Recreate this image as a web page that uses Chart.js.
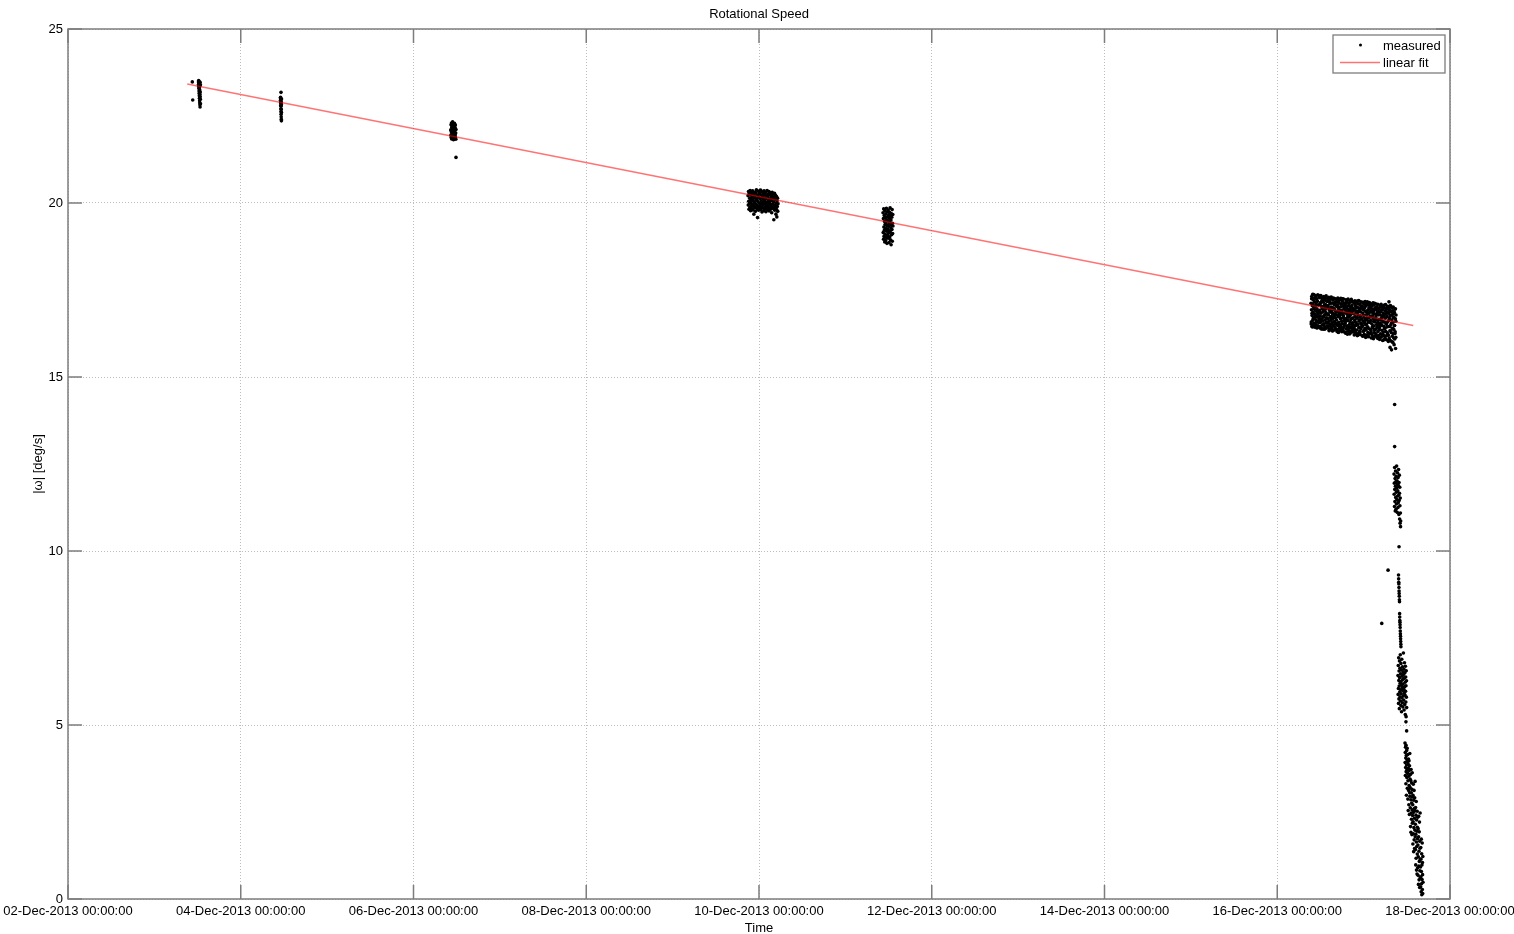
<!DOCTYPE html>
<html>
<head>
<meta charset="utf-8">
<script src="https://cdn.jsdelivr.net/npm/chart.js@4"></script>
<style>
  html, body { margin: 0; padding: 0; background: #fff; }
  canvas { display: block; }
</style>
</head>
<body>
<canvas id="chart" width="1514" height="934"></canvas>
<script>
"use strict";

// x values are "day of December 2013" (12.5 = 12-Dec-2013 12:00)
const xTickDays = [2, 4, 6, 8, 10, 12, 14, 16, 18];
const yTicks = [0, 5, 10, 15, 20, 25];

// linear fit end points
const fitDays = [3.381, 17.575];
const fitValues = [23.42, 16.48];

// single measurements away from the bursts
const strayDays = [3.439, 3.444, 4.466, 6.492, 17.359, 17.359, 17.410, 17.283, 17.210, 17.490, 17.498];
const strayValues = [23.48, 22.96, 23.18, 21.31, 14.21, 13.00, 10.12, 9.45, 7.92, 5.09, 4.83];

// bursts of samples: first and last sample time, values in time order
const burstStart = [3.511, 4.460, 6.431, 9.873, 11.436, 16.391, 16.393, 17.352, 17.404, 17.398, 17.479];
const burstEnd = [3.534, 4.472, 6.492, 10.220, 11.551, 17.375, 17.373, 17.429, 17.432, 17.498, 17.687];

const burstDec03 = [23.48, 23.41, 23.52, 23.35, 23.44, 23.29, 23.50, 23.22, 23.38, 23.15, 23.46, 23.08, 23.31, 23.01,
    23.43, 22.94, 23.25, 22.88, 23.36, 22.82, 23.12, 22.76, 23.47, 23.05, 23.19, 22.98, 23.40, 22.85];
const burstDec04 = [23.02, 22.95, 23.04, 22.88, 22.97, 22.80, 22.92, 22.71, 22.86, 22.63, 22.78, 22.55, 22.90, 22.48,
    22.69, 22.41, 22.83, 22.36, 22.60, 22.99];
const burstDec06 = [22.10, 21.95, 22.25, 21.88, 22.05, 22.30, 21.84, 22.18, 21.99, 22.22, 21.90, 22.12, 22.33, 21.86,
    22.02, 22.27, 21.93, 22.15, 21.82, 22.08, 22.20, 21.97, 21.89, 22.14, 22.29, 21.85, 22.04, 21.92, 22.17, 21.96,
    22.24, 21.87, 22.01, 21.83, 22.11];
const burstDec09 = [
    20.21, 19.94, 20.33, 20.05, 19.82, 20.27, 19.98, 20.14, 19.87, 20.36,
    20.02, 19.78, 20.24, 20.10, 19.91, 20.30, 19.84, 20.18, 19.96, 20.07,
    20.35, 19.80, 20.12, 19.93, 20.26, 19.68, 20.03, 20.20, 19.86, 20.31,
    19.99, 20.15, 19.76, 20.28, 20.08, 19.89, 20.38, 19.95, 20.11, 19.83,
    20.22, 19.58, 20.04, 20.34, 19.90, 20.17, 19.79, 20.25, 20.00, 19.92,
    20.29, 19.85, 20.13, 19.97, 20.37, 19.81, 20.06, 20.23, 19.88, 20.16,
    19.74, 20.32, 20.01, 19.94, 20.19, 19.86, 20.27, 20.09, 19.78, 20.35,
    19.98, 20.14, 19.83, 20.24, 20.04, 19.90, 20.30, 19.75, 20.12, 19.96,
    20.21, 19.87, 20.36, 20.02, 19.80, 20.18, 19.93, 20.26, 19.85, 20.08,
    20.33, 19.77, 20.11, 19.99, 20.23, 19.89, 20.05, 20.29, 19.82, 20.15,
    19.95, 20.20, 19.72, 20.07, 20.31, 19.88, 20.13, 19.97, 20.25, 19.84,
    20.03, 19.52, 20.17, 19.91, 20.28, 19.79, 20.10, 19.94, 20.22, 19.86,
    19.68, 20.00, 20.19, 19.81, 19.60, 20.06, 19.90, 20.14, 19.76, 19.98];
const burstDec11 = [
    19.72, 19.15, 19.55, 18.96, 19.83, 19.31, 19.04, 19.64, 19.22, 19.47,
    18.88, 19.78, 19.38, 19.10, 19.58, 19.27, 18.92, 19.69, 19.43, 19.01,
    19.85, 19.19, 19.52, 18.84, 19.35, 19.75, 19.07, 19.61, 19.25, 19.49,
    18.99, 19.80, 19.33, 19.13, 19.66, 19.40, 18.86, 19.56, 19.20, 19.73,
    19.03, 19.45, 19.86, 19.17, 18.94, 19.62, 19.29, 19.51, 18.80, 19.70,
    19.37, 19.09, 19.59, 19.24, 19.81, 18.90, 19.42, 19.12, 19.67, 19.34];
const burstDec16 = [
    17.12, 16.58, 16.93, 17.31, 16.45, 16.77, 17.05, 16.62, 17.38, 16.86, 16.49, 17.21, 16.70, 16.99, 17.27, 16.54,
    16.81, 17.16, 16.43, 17.02, 16.66, 17.34, 16.90, 16.51, 17.09, 16.74, 17.24, 16.41, 16.96, 16.60, 17.18, 16.84,
    17.36, 16.47, 16.72, 17.07, 16.56, 16.88, 17.29, 16.68,
    16.92, 17.28, 16.41, 16.75, 17.11, 16.57, 17.34, 16.83, 16.38, 17.03, 16.66, 17.20, 16.49, 16.97, 17.25, 16.61,
    16.88, 16.37, 17.15, 16.72, 17.31, 16.53, 17.00, 16.79, 16.44, 17.22, 16.64, 16.94, 17.08, 16.40, 16.85, 17.33,
    16.58, 16.70, 17.18, 16.47, 16.99, 16.81, 17.26, 16.55,
    17.05, 16.46, 16.78, 17.29, 16.60, 16.33, 16.95, 17.17, 16.52, 16.86, 17.24, 16.39, 16.71, 17.01, 16.63, 17.30,
    16.44, 16.90, 17.12, 16.56, 16.32, 16.82, 17.21, 16.68, 16.98, 16.49, 17.27, 16.75, 16.35, 17.08, 16.59, 16.93,
    17.15, 16.42, 16.80, 17.25, 16.54, 16.87, 16.37, 17.03,
    16.64, 17.20, 16.31, 16.89, 17.07, 16.48, 17.27, 16.73, 16.28, 16.97, 16.57, 17.14, 16.40, 16.83, 17.23, 16.51,
    16.77, 16.34, 17.01, 16.67, 17.26, 16.45, 16.92, 17.10, 16.60, 16.30, 16.86, 17.18, 16.53, 16.79, 16.38, 17.04,
    16.70, 17.24, 16.43, 16.95, 16.62, 17.12, 16.29, 16.84,
    17.09, 16.55, 16.26, 16.91, 17.22, 16.68, 16.38, 16.99, 17.15, 16.47, 16.80, 16.23, 17.04, 16.62, 17.24, 16.35,
    16.86, 16.72, 17.12, 16.42, 16.25, 16.95, 17.19, 16.58, 16.77, 16.31, 17.01, 16.65, 16.89, 17.23, 16.44, 16.29,
    16.83, 17.07, 16.52, 16.97, 16.36, 17.17, 16.70, 16.49,
    16.81, 17.14, 16.40, 16.21, 16.96, 16.63, 17.19, 16.47, 16.74, 17.05, 16.28, 16.90, 16.56, 17.17, 16.35, 16.69,
    17.00, 16.19, 16.85, 17.11, 16.51, 16.78, 16.25, 16.99, 17.20, 16.60, 16.43, 16.93, 16.31, 17.08, 16.72, 16.22,
    16.87, 17.16, 16.54, 16.38, 16.97, 16.66, 17.03, 16.46,
    17.02, 16.49, 16.17, 16.84, 17.15, 16.60, 16.31, 16.93, 16.72, 17.09, 16.23, 16.56, 16.98, 16.40, 17.17, 16.67,
    16.14, 16.88, 17.05, 16.35, 16.79, 16.52, 16.20, 17.12, 16.63, 16.91, 16.44, 16.28, 16.83, 17.07, 16.58, 16.16,
    16.96, 16.70, 17.14, 16.38, 16.86, 16.25, 16.75, 17.00,
    16.62, 17.10, 16.33, 16.12, 16.87, 16.53, 17.04, 16.21, 16.76, 16.95, 16.41, 17.13, 16.68, 16.10, 16.90, 16.47,
    17.07, 16.28, 16.81, 16.58, 16.17, 16.99, 17.11, 16.37, 16.72, 16.24, 16.93, 16.64, 17.02, 16.44, 16.14, 16.85,
    16.55, 17.09, 16.31, 16.78, 16.97, 16.19, 16.66, 16.50,
    16.97, 16.42, 16.08, 16.79, 17.06, 16.55, 16.24, 16.88, 16.67, 17.09, 16.15, 16.50, 16.93, 16.34, 16.72, 17.01,
    16.05, 16.61, 16.84, 16.28, 17.04, 16.46, 16.19, 16.77, 16.99, 16.38, 16.58, 16.11, 16.90, 16.69, 17.08, 16.31,
    16.53, 16.82, 16.07, 16.95, 16.44, 16.74, 16.22, 17.02,
    16.58, 17.03, 16.21, 16.02, 16.83, 16.45, 17.16, 16.12, 16.69, 16.92, 16.33, 15.85, 16.76, 17.05, 16.04, 16.51,
    16.88, 16.27, 15.78, 16.64, 16.99, 16.17, 16.40, 16.80, 16.00, 16.57, 17.01, 16.24, 16.72, 16.36, 15.93, 16.86,
    16.48, 16.09, 16.95, 16.30, 16.67, 15.82, 16.14, 16.78];
// second channel sampled over the same Dec 16-17 pass
const burstDec16b = [
    16.52, 17.25, 16.83, 16.44, 17.10, 16.69, 17.37, 16.95, 16.48, 17.03, 16.76, 17.30, 16.59, 16.90, 17.18, 16.42, 16.80, 17.07, 16.64, 17.33,
    16.87, 16.45, 17.14, 16.62, 17.30, 16.39, 16.98, 16.73, 17.22, 16.51, 16.91, 17.06, 16.37, 16.78, 17.27, 16.56, 17.01, 16.68, 16.43, 17.17,
    16.67, 17.19, 16.36, 16.92, 17.11, 16.50, 17.28, 16.74, 16.40, 17.00, 16.84, 16.33, 17.23, 16.58, 16.96, 16.45, 17.14, 16.70, 16.88, 16.53,
    17.15, 16.35, 16.78, 17.02, 16.55, 16.29, 16.91, 17.22, 16.46, 16.69, 17.09, 16.38, 16.85, 16.60, 17.25, 16.32, 16.75, 16.99, 16.50, 17.05,
    16.60, 17.13, 16.28, 16.87, 16.45, 17.21, 16.73, 16.33, 16.94, 17.06, 16.51, 16.24, 16.82, 17.16, 16.40, 16.68, 17.00, 16.56, 16.91, 16.30,
    16.92, 16.36, 17.12, 16.58, 16.24, 16.83, 17.02, 16.49, 16.70, 17.18, 16.20, 16.89, 16.41, 16.64, 17.09, 16.29, 16.76, 16.98, 16.53, 17.15,
    16.45, 16.95, 16.19, 16.78, 17.11, 16.34, 16.62, 17.03, 16.50, 16.88, 16.15, 16.70, 17.16, 16.42, 16.81, 16.26, 16.99, 16.57, 17.07, 16.37,
    16.90, 16.27, 16.73, 17.06, 16.45, 16.15, 16.83, 16.60, 17.12, 16.35, 16.68, 16.96, 16.20, 16.79, 16.51, 17.01, 16.11, 16.62, 16.88, 16.40,
    16.35, 16.86, 16.13, 16.64, 17.03, 16.48, 16.76, 16.21, 16.94, 16.58, 16.06, 16.81, 17.07, 16.40, 16.70, 16.17, 16.89, 16.52, 16.98, 16.27,
    16.85, 16.20, 16.62, 16.98, 16.07, 16.45, 16.77, 16.32, 17.02, 16.55, 16.01, 16.90, 16.39, 16.70, 16.12, 16.83, 16.48, 16.25, 16.96, 16.60];
const burstDec17a = [12.21, 11.63, 11.95, 11.28, 12.40, 11.77, 11.42, 12.08, 11.15, 11.86, 12.30, 11.54, 11.99, 11.20,
    12.15, 11.69, 11.35, 12.44, 11.81, 11.48, 12.02, 11.11, 11.92, 12.25, 11.58, 11.73, 11.25, 12.11, 11.39, 11.88,
    12.34, 11.60, 11.05, 11.97, 11.45, 12.18, 11.66, 10.92, 11.83, 11.30, 10.80, 11.52, 11.09, 10.70, 10.86];
const burstDec17b = [9.31, 9.20, 9.10, 9.05, 8.95, 8.85, 8.78, 8.70, 8.60, 8.54, 8.20, 8.10, 8.00, 7.95, 7.88, 7.80,
    7.70, 7.62, 7.55, 7.48, 7.40, 7.32, 7.25];
const burstDec17c = [6.42, 5.88, 6.71, 6.05, 5.62, 6.93, 6.28, 5.75, 6.55, 6.12, 5.47, 6.84, 6.36, 5.95, 6.63, 5.81,
    6.20, 7.02, 5.69, 6.47, 6.01, 5.56, 6.77, 6.25, 5.90, 6.58, 5.38, 6.15, 6.89, 5.78, 6.40, 6.08, 5.64, 6.67, 5.99,
    6.31, 5.52, 6.52, 6.18, 5.84, 7.07, 6.45, 5.72, 6.03, 6.60, 5.43, 6.34, 5.93, 6.79, 6.10, 5.59, 6.50, 5.86, 6.23,
    5.30, 6.69, 5.97, 6.38, 5.66, 6.13, 5.24, 6.56, 5.80, 6.27, 5.50];
const burstDec17d = [
    4.48, 3.92, 4.21, 3.55, 4.36, 3.78, 4.05, 3.31, 4.42, 3.66, 4.12, 2.98, 3.85, 4.27, 3.49, 4.00, 3.72, 4.33, 3.18, 3.95,
    3.61, 4.15, 2.87, 3.40, 3.88, 2.54, 3.76, 4.02, 3.12, 3.53, 2.71, 3.97, 3.26, 3.69, 2.43, 3.83, 3.05, 4.18, 2.95, 3.45,
    3.20, 2.62, 3.58, 2.08, 3.41, 2.85, 1.92, 3.72, 2.47, 3.05, 2.29, 3.34, 2.76, 1.85, 3.15, 2.56, 3.63, 2.18, 2.93, 2.40,
    2.71, 1.58, 2.98, 2.22, 3.30, 1.87, 2.49, 1.36, 2.84, 2.05, 3.12, 1.70, 2.60, 2.32, 1.45, 2.91, 1.98, 2.54, 3.38, 1.79,
    2.15, 1.42, 2.63, 0.98, 1.86, 2.41, 1.17, 2.80, 1.64, 0.83, 2.27, 1.51, 1.95, 0.72, 2.52, 1.29, 2.06, 1.73, 0.90, 2.35,
    1.55, 0.68, 2.02, 1.21, 0.42, 1.79, 2.38, 0.95, 1.37, 0.55, 1.93, 1.08, 2.21, 0.33, 1.66, 0.81, 1.46, 2.47, 0.61, 1.14,
    0.92, 0.35, 1.48, 0.64, 1.15, 0.21, 1.72, 0.79, 0.44, 1.30, 0.12, 0.98, 0.56, 1.61, 0.27, 1.05, 0.70, 0.16, 1.22, 0.48];

const burstValues = [burstDec03, burstDec04, burstDec06, burstDec09, burstDec11, burstDec16, burstDec16b,
    burstDec17a, burstDec17b, burstDec17c, burstDec17d];

const FONT = "'Liberation Sans', Arial, Helvetica, sans-serif";
const AXIS_GRAY = "#7d7d7d";
const FIT_RED = "rgba(255, 0, 0, 0.55)";

function measuredPoints() {
    const points = [];
    burstValues.forEach((values, b) => {
        const span = burstEnd[b] - burstStart[b];
        values.forEach((v, i) => {
            points.push({ x: burstStart[b] + span * i / (values.length - 1), y: v });
        });
    });
    strayDays.forEach((d, i) => points.push({ x: d, y: strayValues[i] }));
    return points;
}

function dayLabel(day) {
    return String(day).padStart(2, "0") + "-Dec-2013 00:00:00";
}

// MATLAB look: box, inward ticks on all sides, title, axis labels, legend
const matlabFrame = {
    id: "matlabFrame",
    afterDraw(chart) {
        const { ctx, chartArea: a, scales } = chart;
        const tick = 14;
        ctx.save();
        ctx.strokeStyle = AXIS_GRAY;
        ctx.lineWidth = 1.5;
        ctx.beginPath();
        for (const t of scales.x.ticks) {
            const px = scales.x.getPixelForValue(t.value);
            ctx.moveTo(px, a.bottom); ctx.lineTo(px, a.bottom - tick);
            ctx.moveTo(px, a.top); ctx.lineTo(px, a.top + tick);
        }
        for (const t of scales.y.ticks) {
            const py = scales.y.getPixelForValue(t.value);
            ctx.moveTo(a.left, py); ctx.lineTo(a.left + tick, py);
            ctx.moveTo(a.right, py); ctx.lineTo(a.right - tick, py);
        }
        ctx.stroke();
        ctx.strokeRect(a.left, a.top, a.right - a.left, a.bottom - a.top);

        ctx.fillStyle = "#000";
        ctx.font = "13px " + FONT;
        ctx.textAlign = "center";
        ctx.textBaseline = "middle";
        const cx = (a.left + a.right) / 2;
        ctx.fillText("Rotational Speed", cx, 14);
        ctx.fillText("Time", cx, 928);
        ctx.save();
        ctx.translate(38, (a.top + a.bottom) / 2);
        ctx.rotate(-Math.PI / 2);
        ctx.fillText("|\u03c9| [deg/s]", 0, 0);
        ctx.restore();

        // legend
        const [fit, measured] = chart.data.datasets;
        const lx = a.right - 117, ly = a.top + 6;
        ctx.fillStyle = "#fff";
        ctx.fillRect(lx, ly, 112, 38);
        ctx.lineWidth = 1.3;
        ctx.strokeStyle = AXIS_GRAY;
        ctx.strokeRect(lx, ly, 112, 38);
        ctx.fillStyle = measured.pointBackgroundColor;
        ctx.beginPath();
        ctx.arc(lx + 27.5, ly + 10, 1.5, 0, Math.PI * 2);
        ctx.fill();
        ctx.strokeStyle = fit.borderColor;
        ctx.lineWidth = fit.borderWidth;
        ctx.beginPath();
        ctx.moveTo(lx + 7, ly + 27.5);
        ctx.lineTo(lx + 47, ly + 27.5);
        ctx.stroke();
        ctx.fillStyle = "#000";
        ctx.textAlign = "left";
        ctx.fillText(measured.label, lx + 50, ly + 11);
        ctx.fillText(fit.label, lx + 50, ly + 28);
        ctx.restore();
    }
};

Chart.defaults.font.family = FONT;
Chart.defaults.font.size = 13;
Chart.defaults.color = "#000";

new Chart(document.getElementById("chart"), {
    type: "scatter",
    data: {
        datasets: [
            {
                label: "linear fit",
                data: fitDays.map((d, i) => ({ x: d, y: fitValues[i] })),
                showLine: true,
                borderColor: FIT_RED,
                borderWidth: 1.4,
                pointRadius: 0,
                order: 0
            },
            {
                label: "measured",
                data: measuredPoints(),
                pointRadius: 1.8,
                pointBorderWidth: 0,
                pointBackgroundColor: "#000",
                pointBorderColor: "#000",
                order: 1
            }
        ]
    },
    options: {
        responsive: false,
        animation: false,
        events: [],
        layout: { padding: { top: 29, right: 64, left: 0, bottom: 0 } },
        plugins: { legend: { display: false }, title: { display: false }, tooltip: { enabled: false } },
        scales: {
            x: {
                type: "linear",
                min: xTickDays[0],
                max: xTickDays[xTickDays.length - 1],
                afterBuildTicks(scale) {
                    scale.ticks = xTickDays.map((v) => ({ value: v }));
                },
                afterFit(scale) {
                    scale.height = 35;
                    scale.paddingLeft = 0;
                    scale.paddingRight = 0;
                },
                ticks: {
                    autoSkip: false,
                    maxRotation: 0,
                    padding: 5,
                    callback: (v) => dayLabel(v)
                },
                grid: { color: "#bdbdbd", lineWidth: 1, drawTicks: false },
                border: { display: false, dash: [1, 2] }
            },
            y: {
                min: yTicks[0],
                max: yTicks[yTicks.length - 1],
                afterBuildTicks(scale) {
                    scale.ticks = yTicks.map((v) => ({ value: v }));
                },
                afterFit(scale) {
                    scale.width = 68;
                },
                ticks: { padding: 5 },
                grid: { color: "#bdbdbd", lineWidth: 1, drawTicks: false },
                border: { display: false, dash: [1, 2] }
            }
        }
    },
    plugins: [matlabFrame]
});
</script>
</body>
</html>
